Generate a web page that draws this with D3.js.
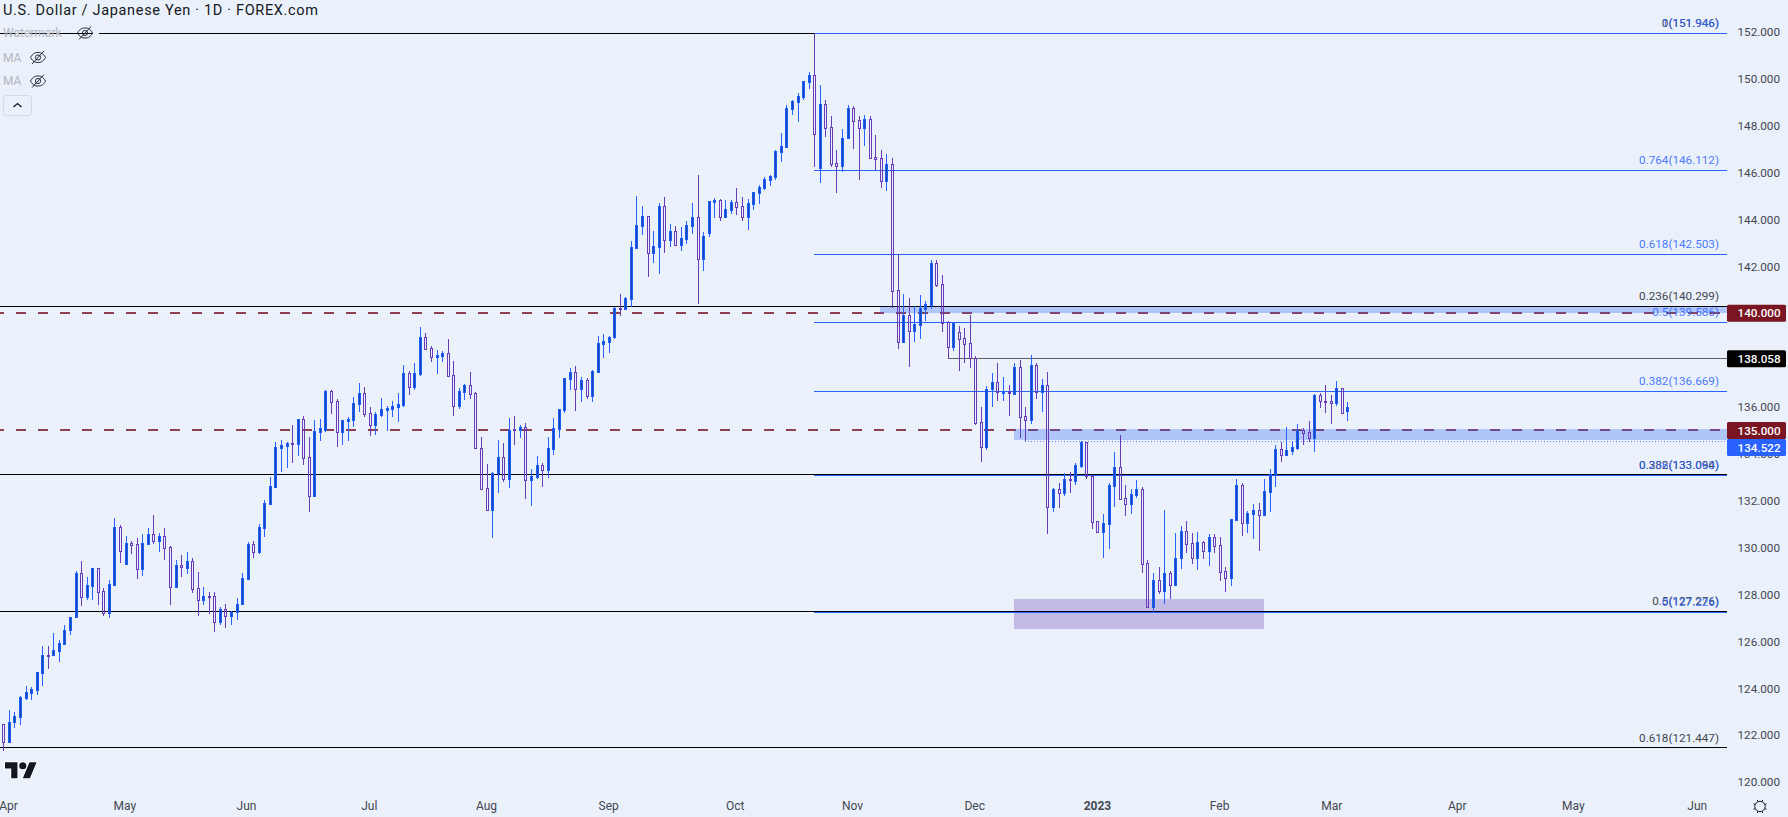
<!DOCTYPE html>
<html><head><meta charset="utf-8">
<script src="https://cdn.jsdelivr.net/npm/d3@7/dist/d3.min.js"></script>
<style>
html,body{margin:0;padding:0;background:#ebf1fa;overflow:hidden}
svg{display:block}
text{font-family:Roboto,"Liberation Sans",sans-serif}
</style></head><body><svg id="c" width="1788" height="817"></svg>
<script>
// --- data: daily candles, USD/JPY ---
const opens=[
122.48,121.72,122.55,122.79,123.60,123.81,123.94,124.66,125.42,125.40,125.60,125.90,126.47,127.03,128.90,127.91,128.38,129.12,128.14,127.22,
128.40,130.88,129.31,130.18,130.14,129.10,130.17,130.57,130.30,130.48,130.01,128.33,129.24,129.14,129.41,128.26,127.78,127.92,127.92,126.84,
127.37,127.10,127.27,127.58,128.68,130.14,129.83,130.85,131.88,132.60,134.26,134.35,134.45,134.43,135.47,133.85,132.22,134.95,135.02,136.67,
136.24,134.95,135.40,135.46,136.14,136.58,135.73,135.25,135.67,135.87,135.93,136.01,136.10,137.44,136.87,137.41,138.97,138.50,138.15,138.19,
138.29,137.35,136.06,136.65,136.92,136.58,134.26,132.53,131.62,133.17,133.85,132.94,135.05,135.03,135.13,132.90,133.03,133.51,133.33,134.22,
135.07,135.89,137.21,137.48,136.78,137.14,136.48,137.51,138.69,138.79,138.97,140.21,140.20,140.62,142.79,143.74,144.14,142.59,142.84,144.56,
143.14,143.50,142.93,143.18,143.74,144.09,142.33,143.44,144.75,144.82,144.12,144.41,144.73,144.56,144.12,144.68,145.15,145.36,145.70,145.83,
146.89,147.11,148.73,149.03,149.24,149.88,150.15,146.21,148.91,147.93,146.40,146.30,147.46,148.74,148.23,147.92,148.27,146.65,146.61,145.66,
146.38,140.98,138.79,139.91,139.26,139.51,140.20,140.37,142.13,141.23,139.61,138.57,139.19,138.93,138.72,138.08,135.35,134.31,136.75,137.05,
136.63,136.65,136.57,137.71,135.60,135.46,137.78,136.65,136.92,131.75,132.49,132.35,132.93,132.86,133.50,134.51,133.06,131.12,130.67,131.01,
132.64,133.43,132.10,131.88,132.24,132.49,129.33,127.48,128.60,128.16,128.90,128.42,129.57,130.69,130.18,129.57,130.23,129.87,130.44,130.10,
128.99,128.72,131.19,132.66,131.07,131.45,131.59,131.41,132.39,133.10,134.19,133.97,134.14,134.26,135.00,134.92,134.69,136.50,136.24,136.24,
136.18,136.80,135.84];
const highs=[
122.48,123.07,122.97,123.67,124.10,124.05,124.69,125.80,125.80,126.36,126.06,126.70,127.04,129.00,129.43,128.73,129.12,129.12,128.26,128.62,
131.26,130.96,130.50,130.30,130.40,130.58,130.84,131.39,130.62,130.84,130.06,129.47,129.69,129.81,129.54,128.96,128.32,128.09,128.09,127.45,
127.58,127.30,127.85,128.90,130.24,130.28,131.01,132.03,133.01,134.51,134.59,134.52,135.23,135.49,135.61,134.72,135.45,135.49,136.72,136.72,
136.33,135.45,135.57,136.43,137.02,136.85,136.00,135.79,136.38,136.04,136.26,136.60,137.79,137.54,137.88,139.41,139.16,138.60,138.43,138.39,
138.90,137.96,136.81,136.98,137.49,136.63,134.72,133.57,133.23,134.59,134.46,135.53,135.61,135.23,135.32,133.36,133.91,133.61,134.72,135.53,
135.91,137.24,137.67,137.75,137.28,137.24,137.58,139.03,139.11,139.03,140.27,140.82,140.68,143.08,145.00,144.58,144.14,143.51,144.70,144.96,
143.81,143.72,143.68,143.94,144.70,145.90,143.47,144.79,144.92,144.86,144.83,144.83,145.34,144.96,144.88,145.17,145.47,145.81,145.90,146.97,
147.69,148.89,149.10,149.40,149.91,150.29,151.946,149.74,149.10,148.42,146.97,147.86,148.89,148.84,148.42,148.46,148.42,147.61,146.97,146.79,
146.62,142.51,140.82,140.65,140.31,140.78,140.52,142.27,142.27,141.63,139.67,139.58,139.46,139.37,139.92,138.17,136.00,136.90,137.45,137.88,
137.28,136.94,137.88,138.00,136.00,138.22,137.88,137.19,137.49,132.54,132.76,133.18,133.23,133.61,134.55,134.51,133.10,131.12,131.43,132.76,
134.08,134.80,132.67,132.50,132.88,132.59,129.47,128.92,129.17,131.60,129.00,130.62,130.92,131.12,130.62,130.67,130.28,130.58,130.58,130.45,
129.17,131.22,132.93,132.76,131.56,131.86,131.90,132.93,133.35,134.38,134.51,135.15,134.55,135.27,135.10,135.40,136.55,136.60,136.94,136.51,
137.11,136.80,136.21];
const lows=[
121.34,121.72,122.32,122.43,123.50,123.50,123.71,124.10,124.82,125.39,125.12,125.90,126.27,127.03,127.51,127.76,127.76,127.55,127.08,127.01,
128.38,129.36,129.31,129.73,128.66,128.79,130.13,130.16,129.81,129.49,127.55,128.29,128.75,128.87,128.06,127.08,127.55,127.17,126.40,126.70,
126.57,126.70,126.91,127.55,128.68,129.56,129.73,130.45,131.88,132.60,133.23,133.40,133.61,133.91,133.52,131.53,132.22,134.55,134.93,135.70,
134.29,134.38,134.55,135.15,135.79,135.57,134.76,134.80,135.57,134.98,135.57,135.36,136.00,136.51,136.72,137.32,138.43,137.92,137.41,137.92,
137.32,135.61,135.91,136.30,136.34,134.26,132.52,131.62,130.41,132.33,132.80,132.54,134.38,134.68,132.07,131.78,132.93,132.59,132.97,133.95,
134.68,135.74,136.72,135.83,136.21,136.34,136.21,137.51,138.09,138.30,138.90,139.88,140.15,140.28,142.74,143.34,141.55,142.14,141.67,142.57,
142.83,142.87,142.66,142.96,143.38,140.40,141.80,143.25,144.06,143.94,144.11,144.24,144.19,143.94,143.55,144.41,144.66,145.26,145.43,145.69,
146.45,147.11,148.46,148.16,149.10,149.57,146.24,145.56,147.52,146.24,145.13,146.03,147.43,147.01,145.69,147.14,146.58,146.11,145.34,145.22,
140.22,138.47,138.79,137.71,138.77,138.90,139.67,140.18,141.12,139.20,138.08,138.39,137.53,137.88,137.66,135.23,133.65,134.17,136.00,136.26,
136.26,135.63,136.51,134.68,134.55,135.28,136.34,135.79,130.58,131.52,131.69,132.20,132.33,132.67,133.40,132.93,130.79,130.68,129.56,129.94,
131.73,132.03,131.35,131.44,132.12,128.92,127.48,127.25,128.02,127.59,127.81,128.42,129.09,129.77,129.30,129.05,129.51,129.20,129.77,128.58,
128.11,128.36,131.18,130.50,130.62,130.37,129.85,131.35,131.52,132.59,133.65,133.97,133.95,134.17,134.38,134.51,134.08,135.96,135.74,135.27,
136.04,135.76,135.40];
const closes=[
121.72,122.55,122.82,123.61,123.84,123.95,124.68,125.40,125.39,125.62,125.92,126.47,127.03,128.90,127.91,128.39,129.12,128.12,127.22,128.43,
130.88,129.87,130.18,130.13,129.10,130.18,130.57,130.30,130.48,130.00,128.33,129.24,129.16,129.41,128.25,127.78,127.92,127.91,126.84,127.37,
127.10,127.25,127.58,128.69,130.14,129.83,130.87,131.89,132.63,134.28,134.38,134.46,134.43,135.47,133.84,132.22,134.96,135.09,136.67,136.23,
134.95,135.43,135.49,136.16,136.58,135.72,135.25,135.69,135.90,135.96,136.03,136.13,137.44,136.87,137.44,138.97,138.49,138.15,138.22,138.29,
137.34,136.06,136.67,136.92,136.57,134.26,132.52,131.62,133.17,133.85,132.94,135.03,135.03,135.15,132.90,133.04,133.51,133.33,134.24,135.09,
135.90,137.22,137.48,136.78,137.14,136.48,137.52,138.72,138.80,138.97,140.21,140.20,140.64,142.81,143.75,144.14,142.59,142.86,144.56,143.14,
143.50,142.91,143.20,143.75,144.09,142.33,143.30,144.78,144.83,144.12,144.43,144.73,144.55,144.12,144.69,145.16,145.37,145.71,145.84,146.91,
147.12,148.74,149.04,149.26,149.90,150.15,147.66,148.91,147.92,146.38,146.30,147.46,148.74,148.22,147.92,148.27,146.64,146.60,145.66,146.38,
140.96,138.79,139.91,139.26,139.53,140.21,140.38,142.13,141.22,139.60,138.57,139.58,138.91,138.70,138.08,135.32,134.31,136.75,137.05,136.63,
136.65,136.58,137.71,135.59,135.46,137.78,136.64,136.94,131.75,132.49,132.35,132.91,132.87,133.51,134.51,133.04,131.11,130.68,131.04,132.66,
133.43,132.07,131.88,132.27,132.49,129.32,127.48,128.60,128.16,128.90,128.42,129.57,130.69,130.17,129.57,130.23,129.87,130.44,130.08,128.97,
128.72,131.21,132.66,131.07,131.46,131.59,131.41,132.40,133.13,134.19,133.97,134.15,134.28,134.99,134.90,134.69,136.50,136.24,136.23,136.18,
136.80,135.76,135.99];

const axisPrices=[120,122,124,126,128,130,132,134,136,138,140,142,144,146,148,150,152];
const timeLabels=["Apr","May","Jun","Jul","Aug","Sep","Oct","Nov","Dec","2023","Feb","Mar","Apr","May","Jun"];
const timeBars=[0.84,21.8,43.7,65.8,86.9,108.9,131.7,152.8,174.8,196.9,218.9,239.1,261.7,282.6,304.9];

const fibBlackLevels=[151.946,140.299,133.094,127.276,121.447];
const fibBlackRatios=["0","0.236","0.382","0.5","0.618"];
const fibBlueLevels=[151.946,146.112,142.503,139.586,136.669,133.060,127.226];
const fibBlueRatios=["1","0.764","0.618","0.5","0.382","0.236","0"];
const dashedLevels=[140,135];
const resistanceLevel=138.058;
const dottedLevel=134.522;
const priceTags=[["140.000",140,"#7a1522",313.2],["138.058",138.058,"#000000",358.7],["135.000",135,"#7a1522",430.5],["134.522",134.522,"#2962ff",447.5]];
const zoneTop=[140.299,140.0], zoneMid=[135.06,134.58], zoneLow=[127.81,126.53];

// --- layout ---
const BG="#ebf1fa", BLUE="#2962ff", PURPLE="#673ab7", RIGHT=1727;
const svg=d3.select("#c");
const y=d3.scaleLinear().domain([120,152]).range([782,32]);
const x=d3.scaleLinear().domain([0,242]).range([3.33,1347.4]);
const sy=v=>Math.floor(y(v))+.5;
const syBlack=v=>Math.floor(y(v)-.2)+.5;

const gLevels=svg.append("g").attr("shape-rendering","crispEdges");
// dashed round numbers
gLevels.selectAll(".dash").data(dashedLevels).join("line")
 .attr("x1",-6).attr("x2",RIGHT-6).attr("y1",d=>Math.floor(y(d))).attr("y2",d=>Math.floor(y(d)))
 .attr("stroke","#8e3e4e").attr("stroke-width",2).attr("stroke-dasharray","10 12");
// zones
const zones=[[x(157.9),zoneTop,"rgba(41,98,255,.3)"],[x(182),zoneMid,"rgba(41,98,255,.3)"],[x(182),zoneLow,"rgba(103,58,183,.3)"]];
const zoneEnds=[RIGHT,RIGHT,1264];
gLevels.selectAll(".zone").data(zones).join("rect")
 .attr("x",d=>Math.round(d[0])).attr("y",d=>y(d[1][0])).attr("height",d=>y(d[1][1])-y(d[1][0]))
 .attr("width",(d,i)=>zoneEnds[i]-Math.round(d[0])).attr("fill",d=>d[2]);
// blue fib
gLevels.selectAll(".fl").data(fibBlueLevels).join("line")
 .attr("x1",x(146)).attr("x2",RIGHT).attr("y1",sy).attr("y2",sy)
 .attr("stroke",BLUE).attr("stroke-width",1);
// black fib
gLevels.selectAll(".fb").data(fibBlackLevels).join("line")
 .attr("x1",0).attr("x2",(d,i)=>i===0?x(146):RIGHT).attr("y1",syBlack).attr("y2",syBlack)
 .attr("stroke","#000");
gLevels.append("rect").attr("x",93).attr("y",30).attr("width",6).attr("height",6).attr("fill",BG);
// horizontal resistance
gLevels.append("line").attr("x1",x(170)).attr("x2",RIGHT).attr("y1",sy(resistanceLevel)).attr("y2",sy(resistanceLevel)).attr("stroke","#5d606b");
gLevels.append("line").attr("x1",x(184)).attr("x2",RIGHT).attr("y1",sy(dottedLevel)).attr("y2",sy(dottedLevel))
 .attr("stroke",BLUE).attr("stroke-opacity",.75).attr("stroke-dasharray","1 2");

// candles
const idx=d3.range(opens.length);
const gC=svg.append("g").attr("shape-rendering","crispEdges");
const cx=i=>Math.round(x(i))+.5;
const col=i=>closes[i]>=opens[i]?BLUE:PURPLE;
const bodyTop=i=>Math.round(y(Math.max(opens[i],closes[i])));
const bodyBot=i=>Math.max(Math.round(y(Math.min(opens[i],closes[i]))),bodyTop(i)+1);
gC.selectAll(".wu").data(idx).join("line").attr("x1",cx).attr("x2",cx)
 .attr("y1",i=>y(highs[i])).attr("y2",bodyTop).attr("stroke",col);
gC.selectAll(".wd").data(idx).join("line").attr("x1",cx).attr("x2",cx)
 .attr("y1",bodyBot).attr("y2",i=>y(lows[i])).attr("stroke",col);
gC.selectAll(".b").data(idx).join("rect")
 .attr("x",i=>cx(i)-1).attr("width",2)
 .attr("y",i=>bodyTop(i)+.5).attr("height",i=>bodyBot(i)-bodyTop(i))
 .attr("fill",i=>closes[i]>=opens[i]?"#1c44b4":"none")
 .attr("stroke",i=>closes[i]>=opens[i]?"#1b5ffb":PURPLE);

// fib labels
const labelStyle=s=>s.attr("text-anchor","end").attr("font-size",11.7);
svg.append("g").selectAll("text").data(fibBlackLevels).join("text").call(labelStyle)
 .attr("x",1719).attr("y",d=>y(d)-6.5).attr("fill","#434651")
 .text((d,i)=>`${fibBlackRatios[i]}(${d.toFixed(3)})`);
svg.append("g").selectAll("text").data(fibBlueLevels).join("text").call(labelStyle)
 .attr("x",1719).attr("y",d=>y(d)-6.5).attr("fill",BLUE).attr("fill-opacity",.85)
 .text((d,i)=>`${fibBlueRatios[i]}(${d.toFixed(3)})`);

// right axis
const ya=svg.append("g").attr("transform",`translate(${RIGHT},0)`)
 .call(d3.axisRight(y).tickValues(axisPrices).tickFormat(d3.format(".3f")).tickSize(0).tickPadding(10.5));
ya.select(".domain").remove();
ya.selectAll("text").attr("font-size",11.7).attr("font-family","Roboto").attr("fill","#434651");

// time axis
const xa=svg.append("g").attr("transform","translate(0,801)")
 .call(d3.axisBottom(x).tickValues(timeBars).tickFormat((d,i)=>timeLabels[i]).tickSize(0).tickPadding(0));
xa.select(".domain").remove();
xa.selectAll("text").attr("font-size",12).attr("font-family","Roboto").attr("fill","#434651")
 .attr("font-weight",(d,i)=>timeLabels[i]==="2023"?700:400);

// price tags
const tags=svg.append("g").selectAll("g").data(priceTags).join("g").attr("transform",d=>`translate(${RIGHT},${d[3]})`);
tags.append("rect").attr("y",-8.5).attr("height",17).attr("width",59).attr("rx",1.5).attr("fill",d=>d[2]);
tags.append("text").attr("x",10.5).attr("y",4.2).attr("font-size",11.7).attr("font-weight",500).attr("fill","#fff").text(d=>d[0]);

// legend
svg.append("text").attr("x",3).attr("y",15).attr("font-size",14.5).attr("font-family","Open Sans").attr("fill","#131722")
 .attr("textLength",315).attr("lengthAdjust","spacing").text("U.S. Dollar / Japanese Yen · 1D · FOREX.com");
const legendNames=["Watermark","MA","MA"], legendEye=[85,38,38], legendY=[33,57.5,81];
const leg=svg.append("g");
leg.selectAll("text").data(legendNames).join("text").attr("x",3).attr("y",(d,i)=>legendY[i]+4.3).attr("font-size",12).attr("font-family","Open Sans").attr("fill","#b2b5be").text(d=>d);
const eye=leg.selectAll("g").data(legendEye).join("g").attr("transform",(d,i)=>`translate(${d},${legendY[i]})`)
 .attr("fill","none").attr("stroke","#131722").attr("stroke-width",.9);
eye.append("path").attr("d","M-7.5 0C-5-4.5-2.5-5 0-5S5-4.5 7.5 0C5 4.5 2.5 5 0 5S-5 4.5-7.5 0Z");
eye.append("circle").attr("r",2.6);
eye.append("path").attr("d","M-6 6.5L6-6.5");
leg.append("rect").attr("x",3.5).attr("y",95.5).attr("width",28).attr("height",20).attr("rx",3).attr("fill",BG).attr("stroke","#d6d9e2");
leg.append("path").attr("d","M13.5 107L17.5 103.5L21.5 107").attr("fill","none").attr("stroke","#131722").attr("stroke-width",1.3);

// TradingView logo
const logo=svg.append("g").attr("transform","translate(5,758.6) scale(.89)");
logo.append("path").attr("d","M14 22H7V11H0V4h14v18zM28 22h-8l7.5-18h8L28 22z").attr("fill","#131722").attr("stroke","#fff").attr("stroke-width",2).attr("paint-order","stroke");
logo.append("circle").attr("cx",20).attr("cy",8).attr("r",4).attr("fill","#131722").attr("stroke","#fff").attr("stroke-width",2).attr("paint-order","stroke");

// gear
const gear=svg.append("g").attr("transform","translate(1760,806.5)").attr("fill","none").attr("stroke","#131722");
gear.append("circle").attr("r",5.2);
gear.selectAll("line").data(d3.range(8)).join("line")
 .attr("x1",d=>5.2*Math.cos(d*Math.PI/4+Math.PI/8)).attr("y1",d=>5.2*Math.sin(d*Math.PI/4+Math.PI/8))
 .attr("x2",d=>7*Math.cos(d*Math.PI/4+Math.PI/8)).attr("y2",d=>7*Math.sin(d*Math.PI/4+Math.PI/8));
</script></body></html>
